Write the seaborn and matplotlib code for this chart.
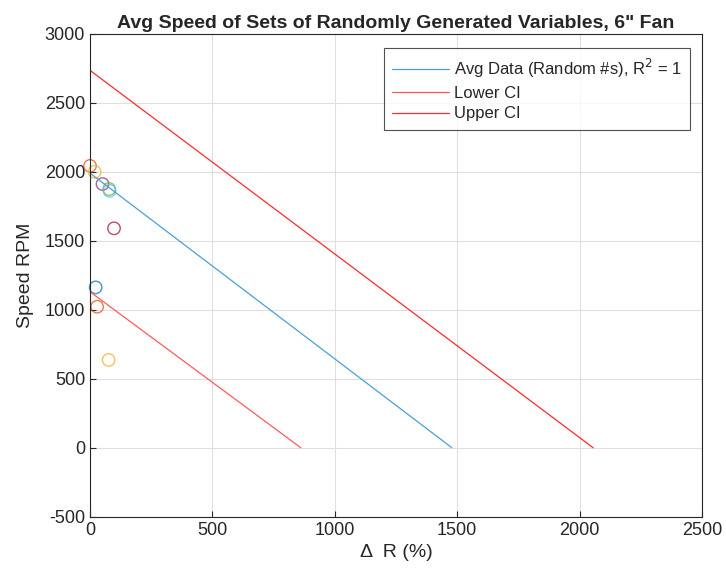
import numpy as np
import pandas as pd
import matplotlib
matplotlib.use("Agg")
import matplotlib.pyplot as plt
import seaborn as sns

# scatter points (delta R %, speed RPM)
pt_x = [0, 19, 51, 78, 80, 98, 23, 29, 76]
pt_y = [2043, 2000, 1911, 1875, 1862, 1590, 1162, 1022, 636]
pt_set = ["s1", "s2", "s3", "s4", "s5", "s6", "s7", "s8", "s9"]
pt_colors = ["#D95319", "#EDB120", "#7E2F8E", "#77AC30", "#4DBEEE",
             "#A2142F", "#0072BD", "#D95319", "#EDB120"]

# fitted line and confidence bounds: endpoints at x=0 and at y=0
avg_x = [0, 1478]
avg_y = [1990, 0]
lower_x = [0, 861]
lower_y = [1130, 0]
upper_x = [0, 2055]
upper_y = [2735, 0]

sns.set_style("white")
plt.rcParams["font.family"] = ["Liberation Sans", "DejaVu Sans"]
plt.rcParams["axes.unicode_minus"] = False

fig = plt.figure(figsize=(7.26, 5.79), dpi=100)
ax = fig.add_axes([0.124, 0.1076, 0.843, 0.834])

lines = pd.concat([
    pd.DataFrame({"x": avg_x, "y": avg_y, "series": "Avg Data (Random #s), R$^2$ = 1"}),
    pd.DataFrame({"x": lower_x, "y": lower_y, "series": "Lower CI"}),
    pd.DataFrame({"x": upper_x, "y": upper_y, "series": "Upper CI"}),
])
sns.lineplot(data=lines, x="x", y="y", hue="series", ax=ax,
             palette=["#4a9fd8", "#ff5a5a", "#ff2a2a"], linewidth=0.9,
             estimator=None, sort=False)

pts = pd.DataFrame({"x": pt_x, "y": pt_y, "set": pt_set})
sns.scatterplot(data=pts, x="x", y="y", hue="set", palette=pt_colors, ax=ax,
                marker="o", s=80, linewidth=1.0, alpha=0.75, legend=False,
                clip_on=False)
# hollow circles: seaborn fills markers, so redraw edge colours
coll = ax.collections[-1]
coll.set_edgecolor(coll.get_facecolor())
coll.set_facecolor("none")

ax.set_xlim(0, 2500)
ax.set_ylim(-500, 3000)
ax.set_xticks(np.arange(0, 2501, 500))
ax.set_yticks(np.arange(-500, 3001, 500))
ax.grid(True, color="#dfdfdf", linewidth=0.8)
ax.tick_params(direction="in", length=4, labelsize=13, colors="#262626",
               top=False, right=False, bottom=True, left=True)
for sp in ax.spines.values():
    sp.set_color("#262626")
    sp.set_linewidth(0.8)

ax.set_xlabel("\u0394  R (%)", fontsize=14, color="#262626", labelpad=4)
ax.set_ylabel("Speed RPM", fontsize=14, color="#262626", labelpad=8)
ax.set_title("Avg Speed of Sets of Randomly Generated Variables, 6\" Fan",
             fontsize=14, fontweight="bold", pad=4)

leg = ax.legend(loc="upper right", bbox_to_anchor=(0.98, 0.97), fontsize=12,
                frameon=True, fancybox=False, edgecolor="#262626",
                handlelength=3.4, borderpad=0.5, labelspacing=0.35,
                handletextpad=0.3, borderaxespad=0)
leg.get_frame().set_linewidth(0.8)

fig.savefig("out.png", dpi=100)
